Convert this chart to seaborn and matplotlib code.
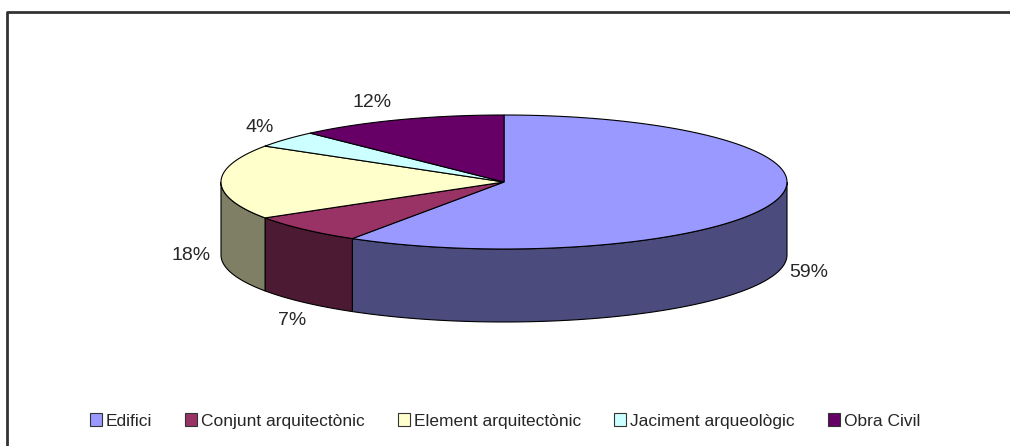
import numpy as np
import matplotlib
matplotlib.use("Agg")
import matplotlib.pyplot as plt
from matplotlib.patches import Polygon, Rectangle
import seaborn as sns

# dades
categories = ["Edifici", "Conjunt arquitectònic", "Element arquitectònic",
              "Jaciment arqueològic", "Obra Civil"]
values = [59, 7, 18, 4, 12]
labels = ["59%", "7%", "18%", "4%", "12%"]

top_colors = ["#9999FF", "#993366", "#FFFFCC", "#CCFFFF", "#660066"]
side_colors = ["#4B4B7D", "#4D1A33", "#7F7F66", "#668080", "#330033"]
# desplaçament de les etiquetes (px)
label_offsets = [(33, -1), (-12, 18), (-30, 1), (-26, -12), (-28, -17)]

sns.set_style("white")
plt.rcParams["font.family"] = ["Liberation Sans", "DejaVu Sans"]

fig = plt.figure(figsize=(10.1, 4.46), dpi=100)
ax = fig.add_axes([0, 0, 1, 1])
ax.set_xlim(0, 1010)
ax.set_ylim(446, 0)
ax.axis("off")

# marc
ax.plot([7, 7, 1012], [450, 12, 12], color="#333333", lw=2, solid_capstyle="butt")

cx, cy, rx, ry, depth = 504, 182, 283, 67, 73


def pt(theta, dy=0):
    t = np.radians(theta)
    return cx + rx * np.cos(t), cy - ry * np.sin(t) + dy


fracs = np.array(values) / np.sum(values)
starts = 90 - np.concatenate([[0], np.cumsum(fracs)[:-1]]) * 360
ends = starts - fracs * 360

# parets laterals (part frontal)
for s, e, c in zip(starts, ends, side_colors):
    for lo, hi in [(-180, 0), (-540, -360)]:
        a1, a2 = min(s, hi), max(e, lo)
        if a1 <= a2:
            continue
        th = np.linspace(a1, a2, 60)
        upper = [pt(t) for t in th]
        lower = [pt(t, depth) for t in th[::-1]]
        ax.add_patch(Polygon(upper + lower, closed=True, facecolor=c,
                             edgecolor="black", lw=0.8))

# cara superior
for s, e, c in zip(starts, ends, top_colors):
    th = np.linspace(s, e, 120)
    verts = [(cx, cy)] + [pt(t) for t in th]
    ax.add_patch(Polygon(verts, closed=True, facecolor=c,
                         edgecolor="black", lw=0.8))

# etiquetes
for s, e, lab, off in zip(starts, ends, labels, label_offsets):
    m = (s + e) / 2
    x, y = pt(m)
    if np.sin(np.radians(m)) < 0:
        y += depth
    ax.text(x + off[0], y + off[1], lab, ha="center", va="center", fontsize=14)

# llegenda
fs = 12.5
px = fs * 100 / 72
handles = [Rectangle((0, 0), 1, 1, facecolor=c, edgecolor="#333333", lw=0.8)
           for c in top_colors]
ax.legend(handles, categories, loc="center", bbox_to_anchor=(0.5, 1 - 421 / 446),
          ncol=5, frameon=False, fontsize=fs, handlelength=12 / px,
          handleheight=12 / px, handletextpad=4 / px, columnspacing=33 / px,
          borderpad=0, borderaxespad=0)

fig.savefig("out.png", dpi=100)
